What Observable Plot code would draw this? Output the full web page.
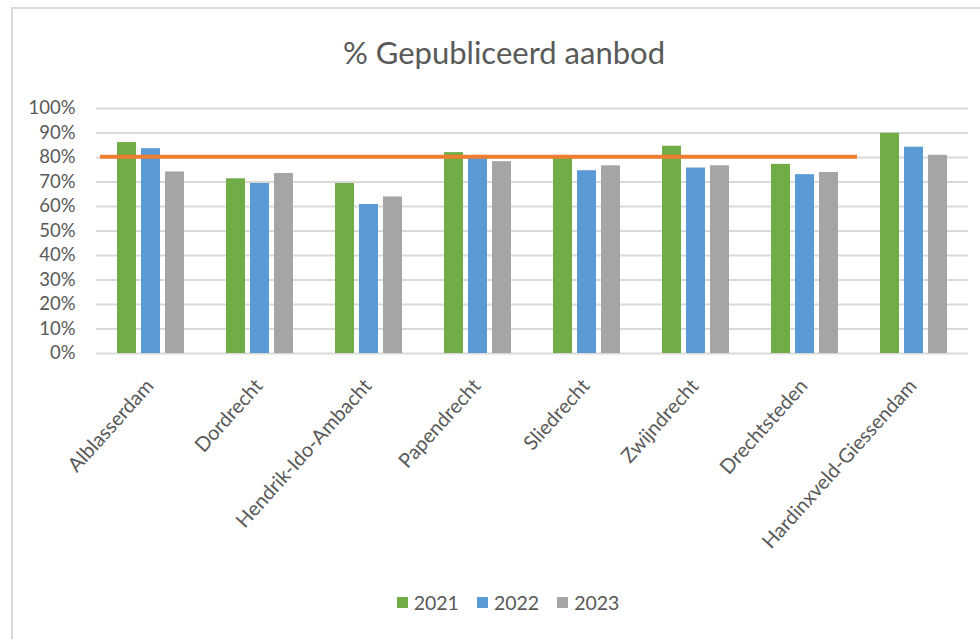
<!DOCTYPE html>
<html>
<head>
<meta charset="utf-8">
<script src="https://cdn.jsdelivr.net/npm/d3@7"></script>
<script src="https://cdn.jsdelivr.net/npm/@observablehq/plot@0.6"></script>
<style>
  html, body { margin: 0; padding: 0; background: #fff; overflow: hidden; }
  body { width: 980px; height: 639px; position: relative; font-family: Lato, "Open Sans", sans-serif; }
  #frame { position: absolute; left: 11px; top: 7px; right: -5px; bottom: -5px; border-left: 2px solid #d9d9d9; border-top: 2px solid #d9d9d9; pointer-events: none; }
  #title { margin-left: 28px; width: 952px; height: 95px; box-sizing: border-box; padding-top: 36px; text-align: center; font-size: 31px; line-height: 32px; font-weight: 400; color: #595959; white-space: nowrap; }
  #chart svg { display: block; overflow: visible; }
  #legend { margin-left: 36px; width: 944px; display: flex; justify-content: center; align-items: center; gap: 18px; padding-top: 22px; font-size: 19.5px; color: #595959; }
  #legend .item { display: flex; align-items: center; gap: 6px; }
  #legend .sw { width: 11px; height: 11px; display: inline-block; }
</style>
</head>
<body>
<div id="frame"></div>
<div id="title">% Gepubliceerd aanbod</div>
<div id="chart"></div>
<div id="legend"></div>
<script>
const categories = ["Alblasserdam", "Dordrecht", "Hendrik-Ido-Ambacht", "Papendrecht", "Sliedrecht", "Zwijndrecht", "Drechtsteden", "Hardinxveld-Giessendam"];
const years = ["2021", "2022", "2023"];
const v2021 = [86.1, 71.3, 69.4, 82.0, 79.7, 84.6, 77.2, 89.9];
const v2022 = [83.6, 69.4, 60.8, 79.7, 74.6, 75.7, 73.0, 84.2];
const v2023 = [74.1, 73.5, 63.9, 78.3, 76.6, 76.6, 73.9, 80.9];
const referenceValue = 80.3;
const referenceFrom = "Alblasserdam";
const referenceTo = "Drechtsteden";
const yTicks = [0, 10, 20, 30, 40, 50, 60, 70, 80, 90, 100];

const colors = {"2021": "#70AD47", "2022": "#5B9BD5", "2023": "#A5A5A5"};
const table = categories.map((c, i) => ({cat: c, "2021": v2021[i], "2022": v2022[i], "2023": v2023[i]}));
const offsets = {"2021": -24, "2022": 0, "2023": 24};

const plot = Plot.plot({
  width: 980,
  height: 474,
  marginLeft: 96,
  marginRight: 12,
  marginTop: 13,
  marginBottom: 216,
  style: {fontFamily: "Lato, 'Open Sans', sans-serif", color: "#595959", background: "transparent", overflow: "visible"},
  x: {domain: categories, padding: 0, round: false},
  y: {domain: [0, 100]},
  marks: [
    Plot.ruleY(yTicks, {stroke: "#d9d9d9", strokeWidth: 2}),
    ...years.map(yr => Plot.barY(table, {x: "cat", y: yr, fill: colors[yr], dx: offsets[yr], insetLeft: 45, insetRight: 45})),
    Plot.ruleY([referenceValue], {x1: () => referenceFrom, x2: () => referenceTo, stroke: "#ED7D31", strokeWidth: 4, insetLeft: 4, insetRight: 2}),
    Plot.axisY({ticks: yTicks, tickSize: 0, tickPadding: 21, tickFormat: d => d + "%", fontSize: 18.5, fill: "#595959", label: null}),
    Plot.axisX({tickSize: 0, tickPadding: 29, tickRotate: -48, fontSize: 20, fill: "#595959", label: null, dx: -1})
  ]
});
document.getElementById("chart").append(plot);

const legend = document.getElementById("legend");
years.forEach(yr => {
  const item = document.createElement("div");
  item.className = "item";
  const sw = document.createElement("span");
  sw.className = "sw";
  sw.style.background = colors[yr];
  const t = document.createElement("span");
  t.textContent = yr;
  item.append(sw, t);
  legend.append(item);
});
</script>
</body>
</html>
